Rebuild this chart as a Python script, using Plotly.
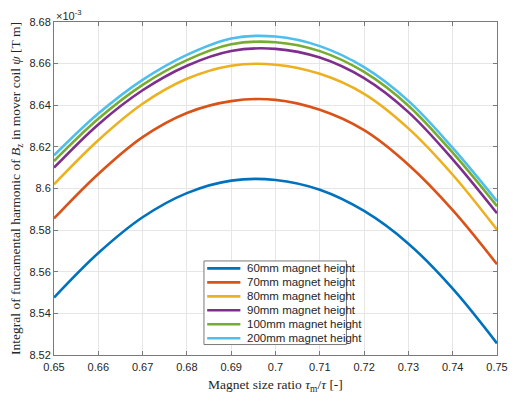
import plotly.graph_objects as go

# Magnet size ratio (tau_m / tau)
ratio = [0.65, 0.66, 0.67, 0.68, 0.69, 0.70, 0.71, 0.72, 0.73, 0.74, 0.75]

# Integral of fundamental harmonic of Bz in mover coil, in units of 1e-3 T m
psi_60 = [8.5476, 8.5690, 8.5862, 8.5978, 8.6038, 8.6041, 8.5994, 8.5892, 8.5735, 8.5519, 8.5256]
psi_70 = [8.5856, 8.6070, 8.6247, 8.6363, 8.6420, 8.6426, 8.6378, 8.6280, 8.6114, 8.5896, 8.5636]
psi_80 = [8.6020, 8.6232, 8.6407, 8.6527, 8.6590, 8.6595, 8.6551, 8.6455, 8.6289, 8.6066, 8.5802]
psi_90 = [8.6100, 8.6308, 8.6472, 8.6590, 8.6661, 8.6671, 8.6629, 8.6530, 8.6367, 8.6140, 8.5881]
psi_100 = [8.6132, 8.6335, 8.6498, 8.6617, 8.6693, 8.6703, 8.6660, 8.6560, 8.6398, 8.6172, 8.5915]
psi_200 = [8.6159, 8.6360, 8.6522, 8.6642, 8.6721, 8.6730, 8.6684, 8.6583, 8.6421, 8.6195, 8.5939]

series_names = ["60mm magnet height", "70mm magnet height", "80mm magnet height",
                "90mm magnet height", "100mm magnet height", "200mm magnet height"]
series_values = [psi_60, psi_70, psi_80, psi_90, psi_100, psi_200]
colors = ["#0072BD", "#D95319", "#EDB120", "#7E2F8E", "#77AC30", "#4DBEEE"]

x_ticks = [0.65, 0.66, 0.67, 0.68, 0.69, 0.70, 0.71, 0.72, 0.73, 0.74, 0.75]
y_ticks = [8.52, 8.54, 8.56, 8.58, 8.60, 8.62, 8.64, 8.66, 8.68]

SANS = "Liberation Sans, Arial, sans-serif"
SERIF = "Liberation Serif, Times New Roman, serif"
INK = "#262626"
AXIS = "#7a7a7a"

fig = go.Figure()
for name, vals, col in zip(series_names, series_values, colors):
    fig.add_trace(go.Scatter(
        x=ratio, y=vals, mode="lines", name=name, showlegend=False,
        line=dict(color=col, width=2.6, shape="spline", smoothing=1.0),
    ))

axis_common = dict(
    showgrid=True, gridcolor="#e6e6e6", gridwidth=1,
    showline=True, linecolor=AXIS, linewidth=1, mirror="allticks",
    ticks="inside", ticklen=4, tickcolor=AXIS,
    zeroline=False,
    tickfont=dict(family=SANS, size=11, color=INK),
)

fig.update_xaxes(
    range=[0.65, 0.75], tickvals=x_ticks,
    ticktext=[f"{v:g}" for v in x_ticks],
    ticklabelstandoff=2,
    title=dict(text="Magnet size ratio <i>τ</i><sub>m</sub>/<i>τ</i> [-]",
               font=dict(family=SERIF, size=13.5, color=INK), standoff=7),
    **axis_common,
)
fig.update_yaxes(
    range=[8.52, 8.68], tickvals=y_ticks,
    ticktext=[f"{v:g}" for v in y_ticks],
    title=dict(text="Integral of funcamental harmonic of <i>B</i><sub>z</sub> in mover coil <i>ψ</i> [T m]",
               font=dict(family=SERIF, size=13.5, color=INK), standoff=5),
    **axis_common,
)

fig.add_annotation(
    text="×10<sup>-3</sup>", xref="paper", yref="paper", x=0.0, y=1.0,
    xanchor="left", yanchor="bottom", showarrow=False, yshift=-2,
    font=dict(family=SANS, size=11, color=INK),
)

# Legend box drawn in paper coordinates
leg_x0, leg_x1 = 0.3385, 0.6601
leg_y0, leg_y1 = 0.0314, 0.2824
fig.add_shape(type="rect", xref="paper", yref="paper",
              x0=leg_x0, x1=leg_x1, y0=leg_y0, y1=leg_y1,
              line=dict(color=AXIS, width=1), fillcolor="white", layer="above")
row_top = 0.2600
row_step = 0.0419
for i, (name, col) in enumerate(zip(series_names, colors)):
    yy = row_top - i * row_step
    fig.add_shape(type="line", xref="paper", yref="paper",
                  x0=0.3458, x1=0.4207, y0=yy, y1=yy,
                  line=dict(color=col, width=2.6), layer="above")
    fig.add_annotation(text=name, xref="paper", yref="paper",
                       x=0.4317, y=yy, xanchor="left", yanchor="middle",
                       showarrow=False, font=dict(family=SANS, size=11.5, color=INK))

fig.update_layout(
    width=519, height=401,
    margin=dict(l=54, r=11, t=22, b=38),
    paper_bgcolor="white", plot_bgcolor="white",
    showlegend=False,
)

fig.write_html("out.html")
